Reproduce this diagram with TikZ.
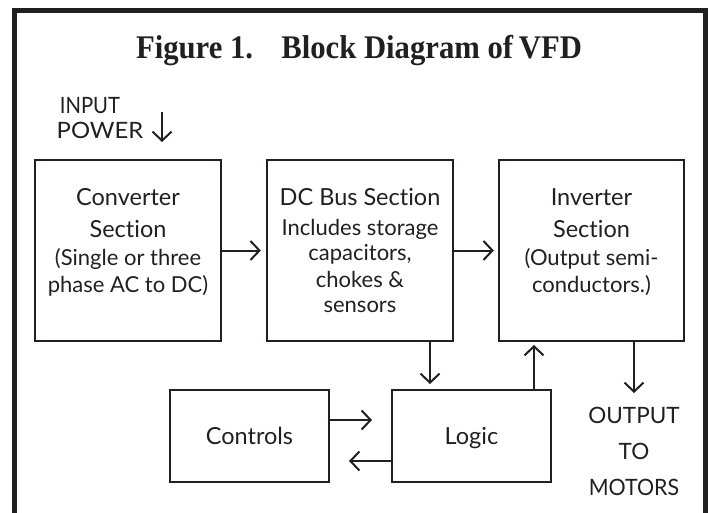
\documentclass[tikz,border=0pt]{standalone}
\usepackage{fontspec}
\usepackage{graphicx}
\setmainfont{Lato}[Ligatures=NoCommon]
\newfontfamily\titlefont[FakeStretch=0.93]{Liberation Serif}
\newfontfamily\capsfont{Lato}
\usetikzlibrary{arrows.meta}
\definecolor{ink}{HTML}{231F20}
\tikzset{
  blockbox/.style={draw=ink, line width=2.3pt, inner sep=0pt, rectangle},
  conn/.style={draw=ink, line width=2pt, -{Straight Barb[length=9pt,width=19pt,line width=2pt]}},
  headtext/.style={anchor=base, text=ink, inner sep=0pt, font=\fontsize{23.5}{28}\selectfont},
  subtext/.style={anchor=base, text=ink, inner sep=0pt, font=\fontsize{22}{26}\selectfont},
  captext/.style={anchor=base, text=ink, inner sep=0pt, font=\capsfont\fontsize{22.5}{25}\selectfont},
}
\begin{document}
\begin{tikzpicture}[x=1pt,y=-1pt]
\useasboundingbox (0,0) rectangle (709,513);
\fill[white] (0,0) rectangle (709,513);

% outer frame, open at the bottom
\draw[ink, line width=5.5pt, line join=miter] (14.5,513) -- (14.5,10.5) -- (705.5,10.5) -- (705.5,513);

% title
\node[anchor=base, text=ink, inner sep=0pt] (title) at (359,59)
  {\titlefont\bfseries\fontsize{33}{36}\selectfont Figure 1.\hspace{18pt} Block Diagram of\hspace{-2pt} VFD};

% blocks
\node[blockbox, minimum width=186pt, minimum height=181pt] (conv)  at (128,250.5) {};
\node[blockbox, minimum width=186pt, minimum height=181pt] (dc)    at (360,250.5) {};
\node[blockbox, minimum width=185pt, minimum height=181pt] (inv)   at (591.5,250.5) {};
\node[blockbox, minimum width=159pt, minimum height=92pt]  (ctrl)  at (249.5,436) {};
\node[blockbox, minimum width=159pt, minimum height=92pt]  (logic) at (471.5,436) {};

% converter text
\node[headtext] (convA) at (128,205) {Converter};
\node[headtext] (convB) at (128,237) {Section};
\node[subtext]  (convC) at (128,265) {(Single or three};
\node[subtext]  (convD) at (128,292) {phase AC to DC)};

% DC bus text
\node[headtext] (dcA) at (360,205) {DC Bus Section};
\node[subtext]  (dcB) at (360,235) {Includes storage};
\node[subtext]  (dcC) at (360,260) {capacitors,};
\node[subtext]  (dcD) at (360,287) {chokes \&};
\node[subtext]  (dcE) at (360,312) {sensors};

% inverter text
\node[headtext] (invA) at (591.5,205) {Inverter};
\node[headtext] (invB) at (591.5,237) {Section};
\node[subtext]  (invC) at (591.5,265) {(Output semi-};
\node[subtext]  (invD) at (591.5,292) {conductors.)};

% lower blocks text
\node[headtext] (ctrlT)  at (249.5,444) {Controls};
\node[headtext] (logicT) at (471.5,444) {Logic};

% input / output labels
\node[captext] (inA) at (90,114) {\scalebox{0.9}[1]{INPUT}};
\node[captext] (inB) at (100,139) {\scalebox{1.06}[1]{POWER}};
\node[captext] (outA) at (634,423) {OUTPUT};
\node[captext] (outB) at (634,459) {TO};
\node[captext] (outC) at (634,495) {\scalebox{0.95}[1]{MOTORS}};

% connector end points
\coordinate (inTop)  at (162,112);
\coordinate (inTip)  at (162,142);
\coordinate (dcTap)  at (430,384);
\coordinate (invIn)  at (534,345);
\coordinate (outTip) at (634,393);
\coordinate (ctlTip) at (372,420);
\coordinate (lgTip)  at (349,461);

% connectors
\draw[conn] (inTop) -- (inTip);
\draw[conn] (conv.east) -- ([xshift=-5pt]dc.west);
\draw[conn] (dc.east) -- ([xshift=-4pt]inv.west);
\draw[conn] (dc.south -| dcTap) -- (dcTap);
\draw[conn] (logic.north -| invIn) -- (invIn);
\draw[conn] (inv.south -| outTip) -- (outTip);
\draw[conn] (ctrl.east |- ctlTip) -- (ctlTip);
\draw[conn] (logic.west |- lgTip) -- (lgTip);
\end{tikzpicture}
\end{document}
